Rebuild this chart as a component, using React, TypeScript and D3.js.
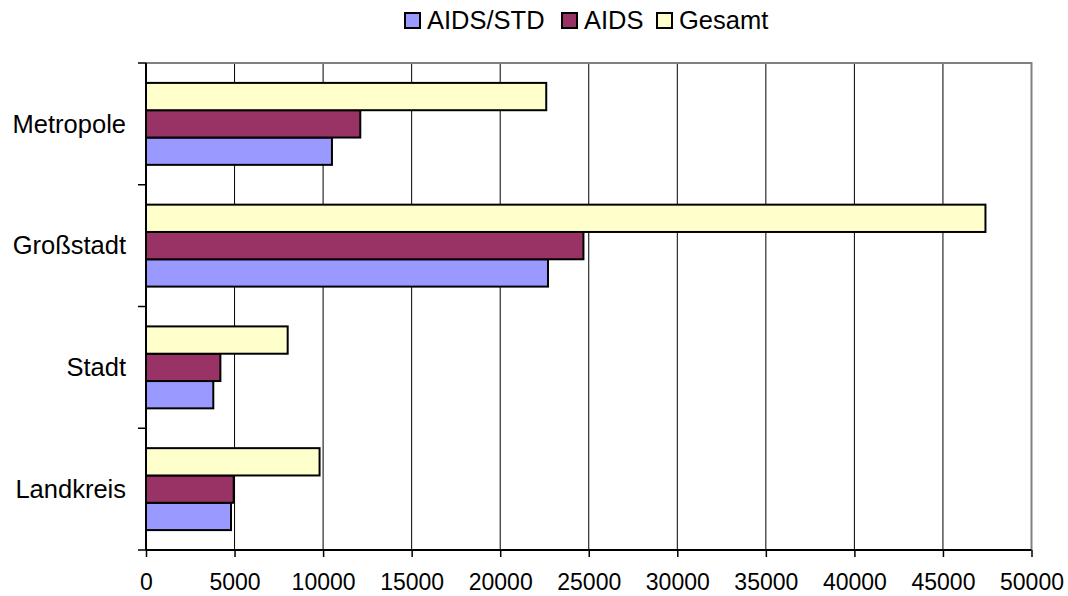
import React, { useRef, useEffect } from "react";
import * as d3 from "d3";

// Kategorien (von oben nach unten) und Werte je Serie
const categories = ["Metropole", "Großstadt", "Stadt", "Landkreis"];
const seriesNames = ["AIDS/STD", "AIDS", "Gesamt"];
const aidsStd = [10500, 22700, 3800, 4800];
const aids = [12100, 24700, 4200, 4950];
const gesamt = [22600, 47400, 8000, 9800];
const xTicks = [0, 5000, 10000, 15000, 20000, 25000, 30000, 35000, 40000, 45000, 50000];

const colors = ["#9999FF", "#993366", "#FFFFCC"];
const FONT = "Arial, 'Liberation Sans', sans-serif";

const App = () => {
  const ref = useRef<HTMLDivElement>(null);

  useEffect(() => {
    const width = 1068;
    const height = 596;
    const marginLeft = 146;
    const marginRight = 36.5;
    const marginTop = 63;
    const marginBottom = 46;

    const values = [aidsStd, aids, gesamt];

    // Skalen
    const x = d3
      .scaleLinear()
      .domain([0, 50000])
      .range([marginLeft, width - marginRight]);
    const y = d3
      .scaleBand()
      .domain(categories)
      .range([marginTop, height - marginBottom])
      .paddingInner(0.327)
      .paddingOuter(0.1635);
    // Gesamt oben, AIDS/STD unten
    const ySub = d3
      .scaleBand()
      .domain(["Gesamt", "AIDS", "AIDS/STD"])
      .range([0, y.bandwidth()]);

    d3.select(ref.current).selectAll("*").remove();

    const svg = d3
      .select(ref.current)
      .append("svg")
      .attr("width", width)
      .attr("height", height)
      .style("display", "block")
      .style("font-family", FONT);

    const plotTop = marginTop;
    const plotBottom = height - marginBottom;

    // Gitterlinien
    svg
      .append("g")
      .selectAll("line")
      .data(xTicks.slice(1, -1))
      .join("line")
      .attr("x1", (d) => x(d))
      .attr("x2", (d) => x(d))
      .attr("y1", plotTop)
      .attr("y2", plotBottom)
      .attr("stroke", "#000")
      .attr("stroke-width", 1);

    // Rahmen oben und rechts (grau)
    svg
      .append("path")
      .attr("d", `M${x(0)},${plotTop}H${x(50000)}V${plotBottom}`)
      .attr("fill", "none")
      .attr("stroke", "#808080")
      .attr("stroke-width", 2);

    // Balken
    const groups = svg
      .append("g")
      .selectAll("g")
      .data(categories)
      .join("g")
      .attr("transform", (d) => `translate(0,${y(d)})`);

    groups
      .selectAll("rect")
      .data((c, i) => seriesNames.map((s, si) => ({ s, si, v: values[si][i] })))
      .join("rect")
      .attr("x", x(0))
      .attr("y", (d) => ySub(d.s))
      .attr("width", (d) => x(d.v) - x(0))
      .attr("height", ySub.bandwidth())
      .attr("fill", (d) => colors[d.si])
      .attr("stroke", "#000")
      .attr("stroke-width", 2);

    // X-Achse
    svg
      .append("g")
      .attr("transform", `translate(0,${plotBottom})`)
      .call(d3.axisBottom(x).tickValues(xTicks).tickSize(7).tickPadding(17).tickFormat(d3.format("d")))
      .call((g) => g.select(".domain").attr("stroke-width", 2).attr("d", `M${x(0)},0H${x(50000)}`))
      .call((g) => g.selectAll(".tick line").attr("stroke-width", 1.5))
      .call((g) =>
        g.selectAll("text").attr("font-size", 23).attr("font-family", FONT).attr("fill", "#000")
      );

    // Y-Achse
    const yBounds = d3.range(categories.length + 1).map(
      (i) => plotTop + (i * (plotBottom - plotTop)) / categories.length
    );
    const yAxis = svg.append("g");
    yAxis
      .append("line")
      .attr("x1", x(0))
      .attr("x2", x(0))
      .attr("y1", plotTop)
      .attr("y2", plotBottom)
      .attr("stroke", "#000")
      .attr("stroke-width", 2);
    yAxis
      .selectAll(".tk")
      .data(yBounds)
      .join("line")
      .attr("x1", x(0) - 8)
      .attr("x2", x(0))
      .attr("y1", (d) => d)
      .attr("y2", (d) => d)
      .attr("stroke", "#000")
      .attr("stroke-width", 1.5);
    yAxis
      .selectAll("text")
      .data(categories)
      .join("text")
      .attr("x", 126)
      .attr("y", (d) => y(d)! + y.bandwidth() / 2)
      .attr("dy", "0.34em")
      .attr("text-anchor", "end")
      .attr("font-size", 25.5)
      .text((d) => d);

    // Legende
    const legendItems = [
      { name: "AIDS/STD", x: 405, c: colors[0] },
      { name: "AIDS", x: 562, c: colors[1] },
      { name: "Gesamt", x: 657, c: colors[2] },
    ];
    const legend = svg
      .append("g")
      .selectAll("g")
      .data(legendItems)
      .join("g")
      .attr("transform", (d) => `translate(${d.x},13)`);
    legend
      .append("rect")
      .attr("width", 15)
      .attr("height", 15)
      .attr("fill", (d) => d.c)
      .attr("stroke", "#000")
      .attr("stroke-width", 2);
    legend
      .append("text")
      .attr("x", 22)
      .attr("y", 16)
      .attr("font-size", 25.5)
      .text((d) => d.name);
  }, []);

  return <div ref={ref} style={{ position: "absolute", left: 0, top: 0 }}></div>;
};

export default App;
